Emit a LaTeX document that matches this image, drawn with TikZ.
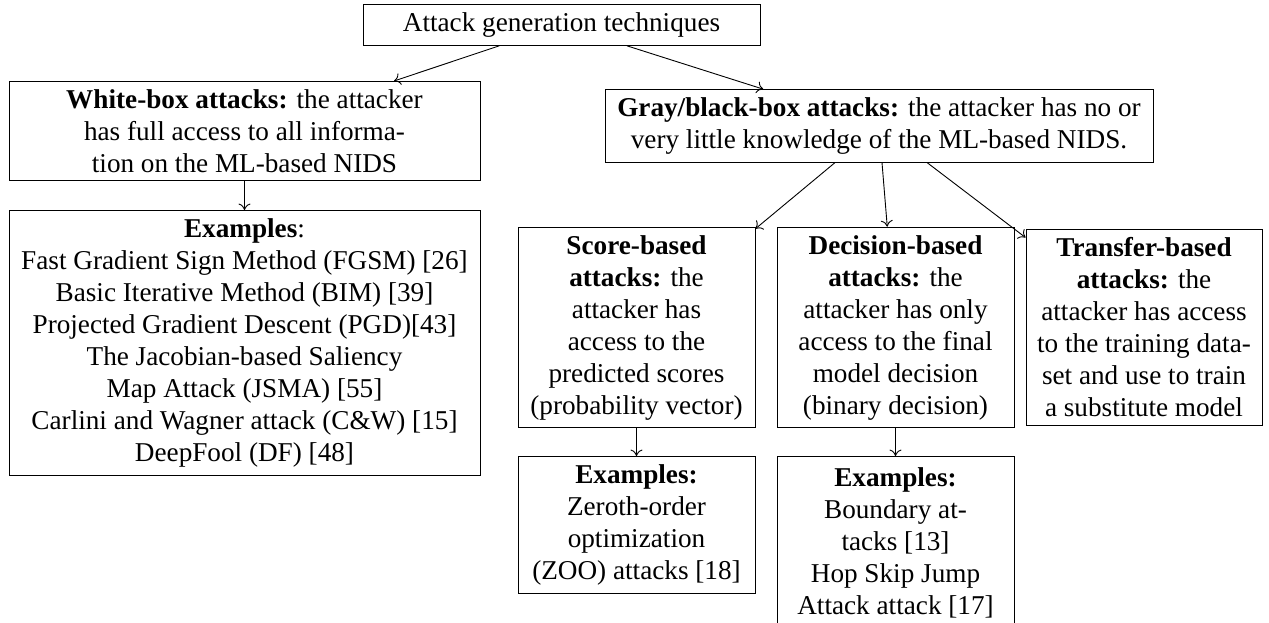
\documentclass[tikz,border=0pt]{standalone}
\usepackage{fontspec}
\setmainfont{Liberation Serif}
\usetikzlibrary{arrows.meta}
\begin{document}
\begin{tikzpicture}[x=0.5pt,y=-0.5pt,
  box/.style={draw, line width=0.45pt, align=center, inner xsep=3pt, inner ysep=4pt,
    font=\fontsize{13.6}{16}\selectfont},
  arr/.style={-{To[length=3.2pt,width=6pt]}, line width=0.45pt}]
\useasboundingbox (0,0) rectangle (1269,622);
\node[box, minimum width=198.5pt] (root) at (561.5,25) {Attack generation techniques};
\node[box, minimum width=235.5pt] (white) at (244.5,131)
  {\textbf{White-box attacks:} the attacker\\has full access to all informa-\\tion on the ML-based NIDS};
\node[box, minimum width=235.5pt, anchor=north] (wex) at (244.5,210)
  {\textbf{Examples}:\\Fast Gradient Sign Method (FGSM) [26]\\Basic Iterative Method (BIM) [39]\\Projected Gradient Descent (PGD)[43]\\The Jacobian-based Saliency\\Map Attack (JSMA) [55]\\Carlini and Wagner attack (C\&W) [15]\\DeepFool (DF) [48]};
\node[box, minimum width=274pt] (gray) at (879,126)
  {\textbf{Gray/black-box attacks:} the attacker has no or\\very little knowledge of the ML-based NIDS.};
\node[box, minimum width=118.5pt] (score) at (636.5,327.5)
  {\textbf{Score-based}\\\textbf{attacks:} the\\attacker has\\access to the\\predicted scores\\(probability vector)};
\node[box, minimum width=118.5pt] (dec) at (895.5,327.5)
  {\textbf{Decision-based}\\\textbf{attacks:} the\\attacker has only\\access to the final\\model decision\\(binary decision)};
\node[box, minimum width=118pt] (trans) at (1144,327.5)
  {\textbf{Transfer-based}\\\textbf{attacks:} the\\attacker has access\\to the training data-\\set and use to train\\a substitute model};
\node[box, minimum width=118.5pt, anchor=north] (sex) at (636.5,456)
  {\textbf{Examples:}\\Zeroth-order\\optimization\\(ZOO) attacks [18]};
\node[box, minimum width=118.5pt, anchor=north, minimum height=86pt] (dex) at (895.5,456)
  {\textbf{Examples:}\\Boundary at-\\tacks [13]\\Hop Skip Jump\\Attack attack [17]};
\draw[arr] (root) -- (white);
\draw[arr] (root) -- (gray);
\draw[arr] (white) -- (wex);
\draw[arr] (gray) -- (score);
\draw[arr] (gray) -- (dec);
\draw[arr] (gray) -- (trans);
\draw[arr] (score) -- (sex);
\draw[arr] (dec) -- (dex);
\end{tikzpicture}
\end{document}
